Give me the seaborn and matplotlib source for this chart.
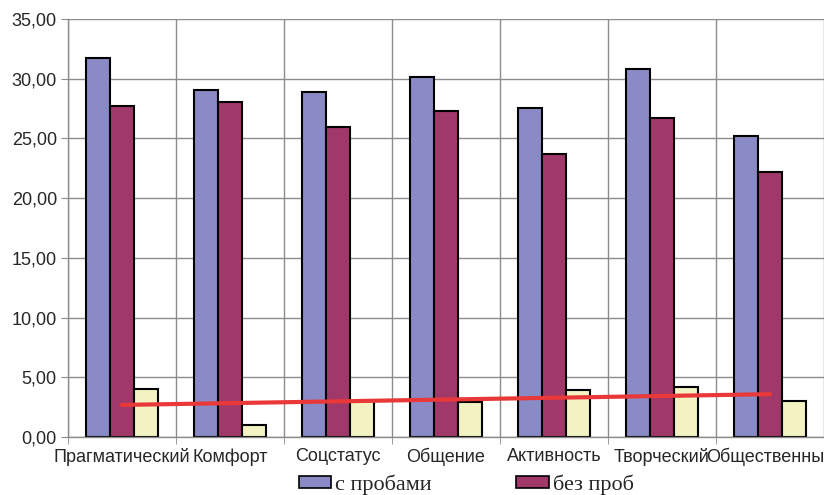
"""
Grouped bars for seven categories with a linear trend over the third series.
"""

import numpy as np
import pandas as pd
import matplotlib.pyplot as plt
from matplotlib.ticker import MultipleLocator, FixedLocator
import seaborn as sns

categories = ["Прагматический", "Комфорт", "Соцстатус", "Общение",
              "Активность", "Творческий", "Общественный"]
series_names = ["с пробами", "без проб", "разница"]
with_tests = [31.7, 29.05, 28.9, 30.15, 27.55, 30.8, 25.2]
without_tests = [27.75, 28.05, 25.95, 27.3, 23.7, 26.7, 22.15]
difference = [4.0, 1.0, 3.0, 2.9, 3.9, 4.15, 3.0]

colors = ["#8A8AC6", "#A0386A", "#F2F2C2"]

df = pd.DataFrame({
    "category": categories * 3,
    "series": np.repeat(series_names, len(categories)),
    "value": with_tests + without_tests + difference,
})

sns.set_style("white")
plt.rcParams["font.family"] = ["Liberation Sans", "DejaVu Sans"]

fig = plt.figure(figsize=(8.24, 4.95), dpi=100)
ax = fig.add_axes([68 / 824, 58 / 495, 756 / 824, 418 / 495])

sns.barplot(
    data=df, x="category", y="value", hue="series",
    palette=colors, width=2 / 3, edgecolor="black", linewidth=1.5,
    saturation=1, ax=ax,
)

# linear trend of the third series
sns.regplot(
    x=np.arange(len(categories)), y=np.array(difference),
    scatter=False, ci=None, color="#E83838",
    line_kws={"linewidth": 3}, ax=ax,
)

ax.set_xlim(-0.5, len(categories) - 0.5)
ax.set_ylim(0, 35)
ax.yaxis.set_major_locator(MultipleLocator(5))
ax.set_yticklabels([f"{v:.2f}".replace(".", ",") for v in ax.get_yticks()])
ax.set_xticks(range(len(categories)))
ax.set_xticklabels(categories)
ax.xaxis.set_minor_locator(FixedLocator(np.arange(-0.5, len(categories), 1)))

ax.grid(True, which="major", axis="y", color="#8C8C8C", linewidth=1)
ax.grid(True, which="minor", axis="x", color="#8C8C8C", linewidth=1)
ax.set_axisbelow(True)

for side in ["top", "right"]:
    ax.spines[side].set_visible(False)
for side in ["left", "bottom"]:
    ax.spines[side].set_color("#8C8C8C")
    ax.spines[side].set_linewidth(1)

ax.tick_params(axis="y", which="major", length=5, color="#8C8C8C",
               labelsize=13, pad=3, left=True)
ax.tick_params(axis="x", which="major", length=0, labelsize=13, pad=8)
ax.tick_params(axis="x", which="minor", length=5, color="#8C8C8C", bottom=True)
ax.set_xlabel("")
ax.set_ylabel("")

handles, labels = ax.get_legend_handles_labels()
for h in handles:
    h.set_linewidth(1.2)
ax.legend(
    handles[:2], labels[:2], loc="center", bbox_to_anchor=(0.566, 10 / 495),
    bbox_transform=fig.transFigure, ncol=2, frameon=False,
    prop={"family": "Liberation Serif", "size": 16},
    handlelength=1.45, handleheight=0.45, handletextpad=0.2,
    columnspacing=3.8, borderpad=0, borderaxespad=0,
)

plt.savefig("out.png", dpi=100)
